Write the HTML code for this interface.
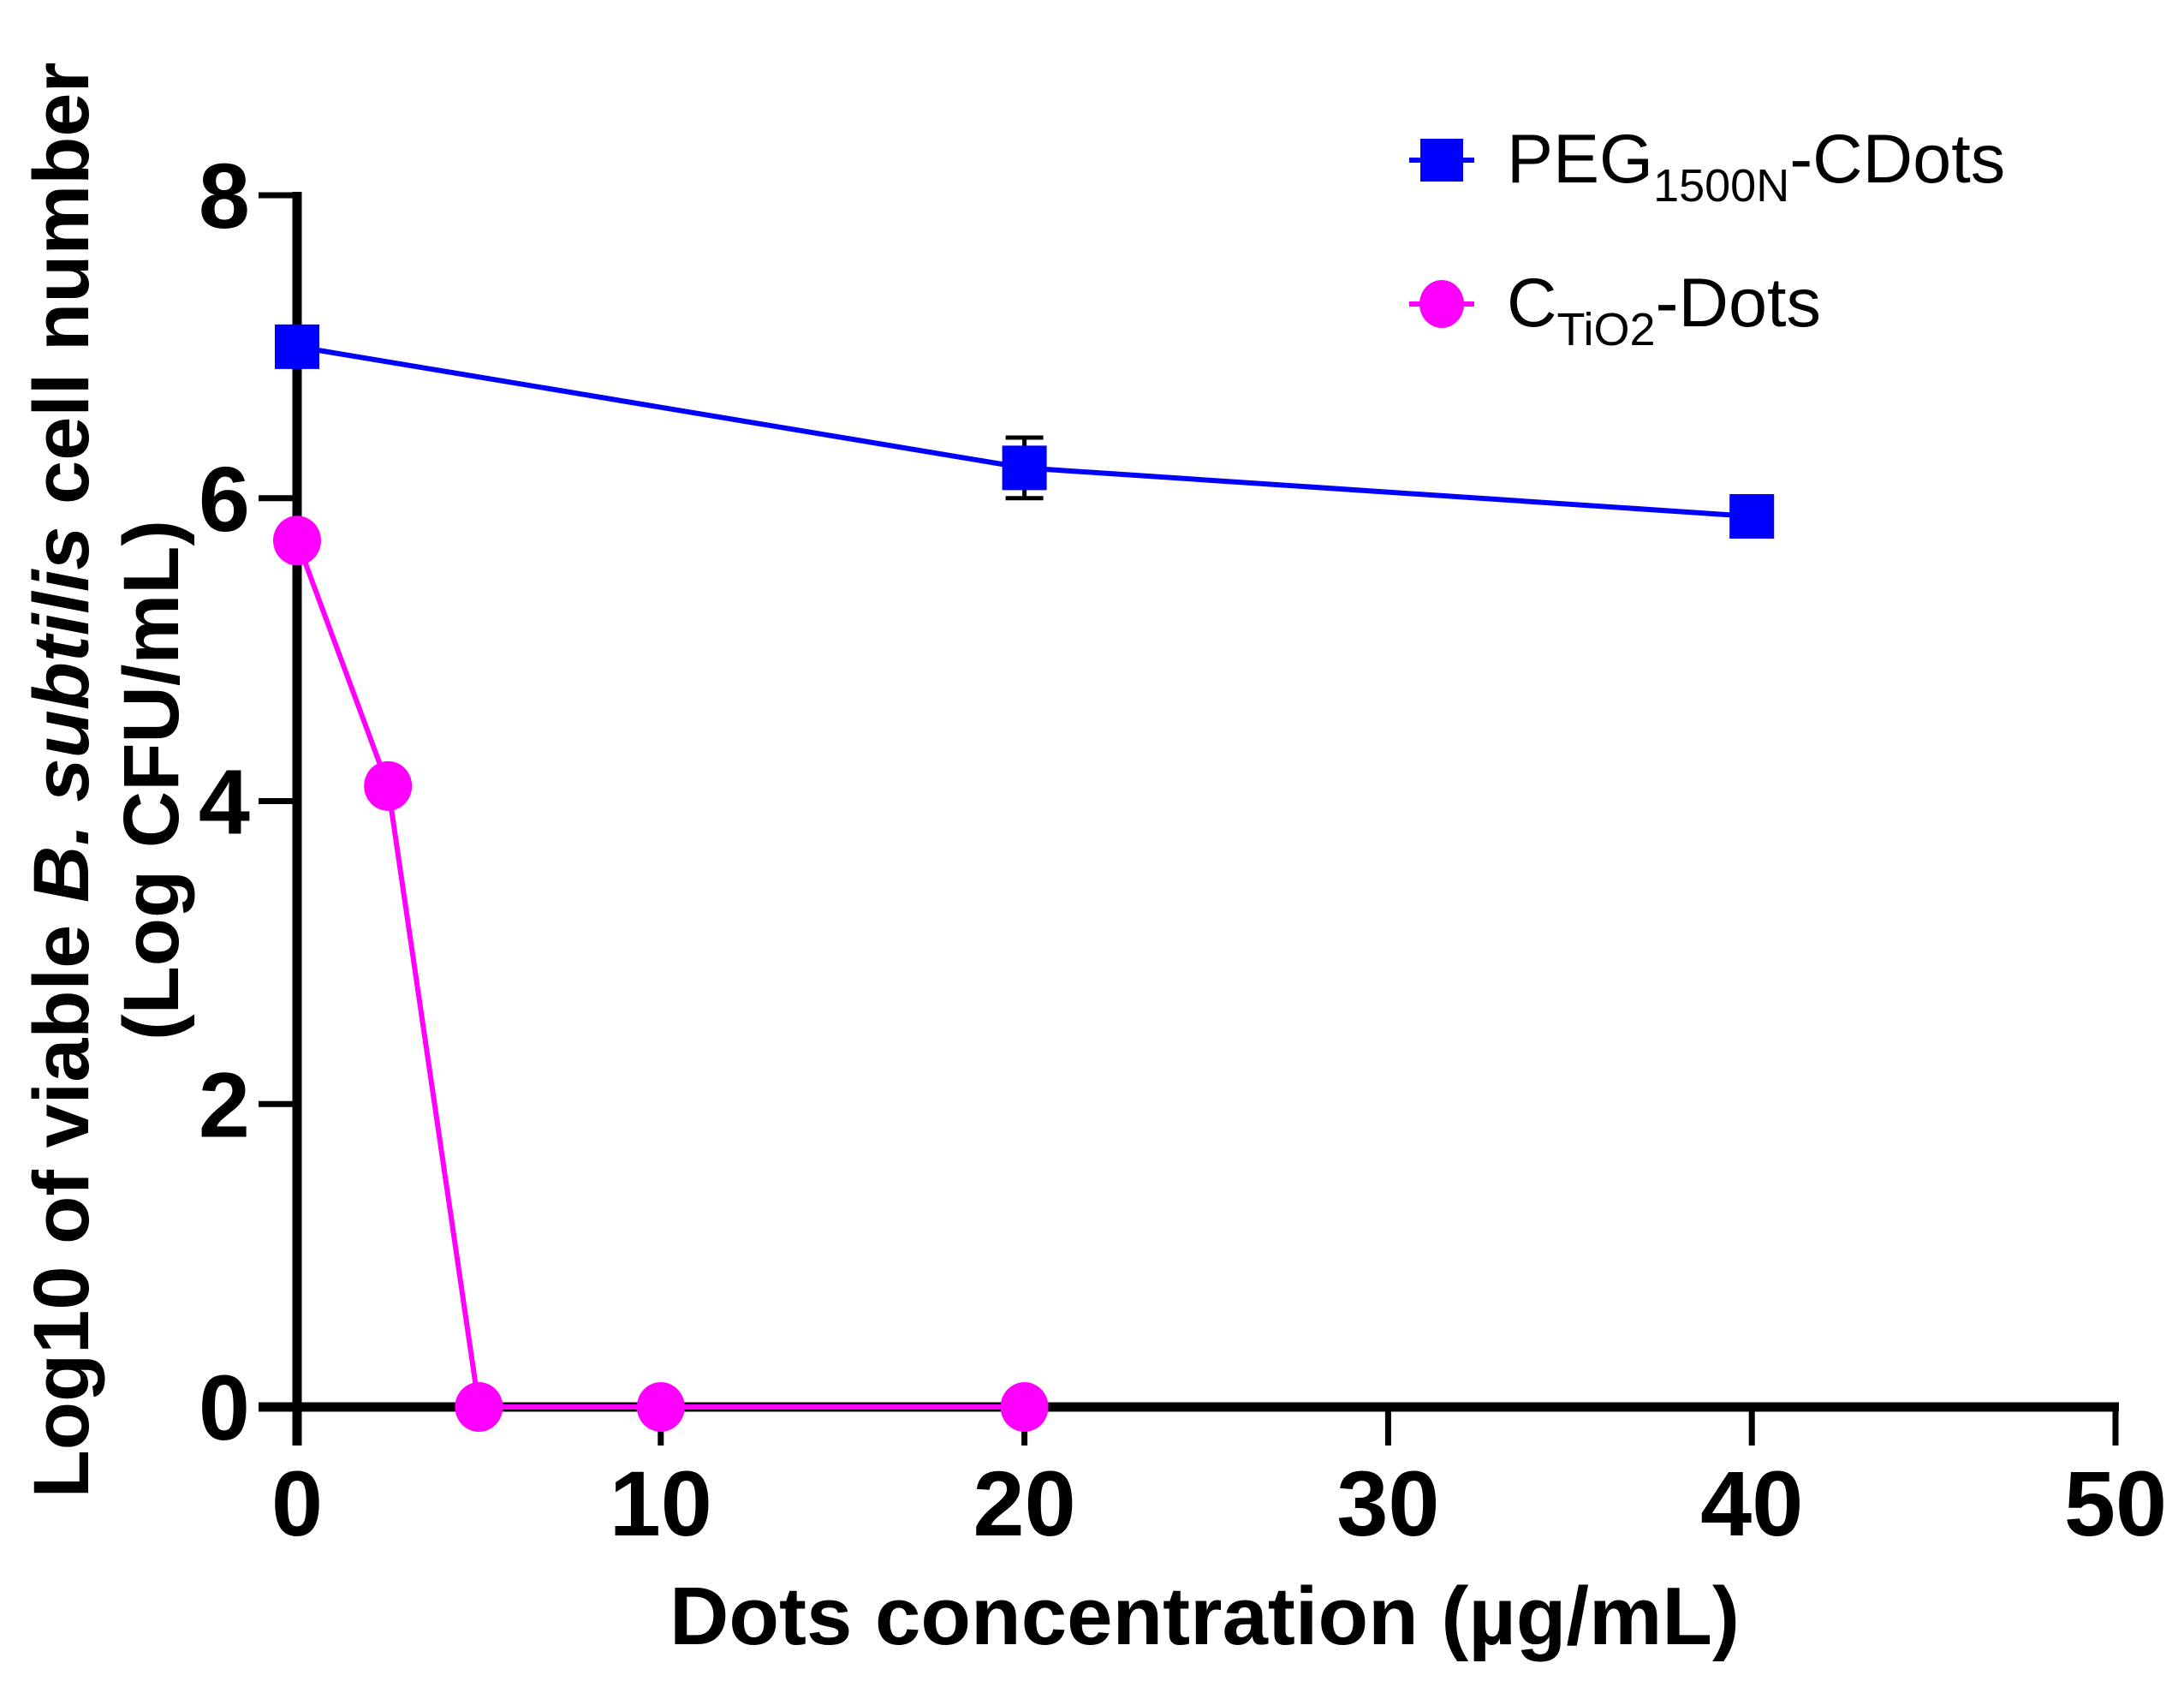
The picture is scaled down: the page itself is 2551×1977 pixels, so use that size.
<!DOCTYPE html>
<html><head><meta charset="utf-8"><style>
body{margin:0;background:#fff}
svg{display:block}
text{font-family:"Liberation Sans",sans-serif}
</style></head><body>
<svg id="chart" width="2551" height="1977" viewBox="0 0 2551 1977" xmlns="http://www.w3.org/2000/svg">
<g id="axes"></g>
<g id="series"></g>
<text x="1407" y="1920" font-size="96" font-weight="bold" text-anchor="middle">Dots concentration (µg/mL)</text>
<g transform="translate(0,911) rotate(-90)" font-size="92" font-weight="bold" text-anchor="middle">
<text x="0" y="103">Log10 of viable <tspan font-style="italic">B. subtilis</tspan> cell number</text>
<text x="0" y="208">(Log CFU/mL)</text>
</g>
<g font-size="81">
<g>
<line x1="1646" y1="187" x2="1722" y2="187" stroke="#0000ff" stroke-width="6"/>
<rect x="1659" y="162" width="50" height="50" fill="#0000ff"/>
<text x="1760" y="213">PEG<tspan font-size="54" dy="22">1500N</tspan><tspan dy="-22">-CDots</tspan></text>
</g>
<g>
<line x1="1646" y1="355" x2="1722" y2="355" stroke="#ff00ff" stroke-width="6"/>
<ellipse cx="1684" cy="355" rx="26" ry="28" fill="#ff00ff"/>
<text x="1760" y="381">C<tspan font-size="54" dy="22">TiO2</tspan><tspan dy="-22">-Dots</tspan></text>
</g>
</g>
</svg>
<script>
const xTicks=[0,10,20,30,40,50];
const yTicks=[0,2,4,6,8];
const pegX=[0,20,40];
const pegY=[7.0,6.2,5.88];
const pegErr=[0,0.2,0];
const tioX=[0,2.5,5,10,20];
const tioY=[5.72,4.1,0,0,0];
const NS='http://www.w3.org/2000/svg';
const X0=347,X1=2471,Y0=1643,Y1=228;
function sx(v){return X0+(v-0)/(50-0)*(X1-X0);}
function sy(v){return Y0-(v-0)/(8-0)*(Y0-Y1);}
function mk(tag,attrs,parent){const e=document.createElementNS(NS,tag);for(const k in attrs)e.setAttribute(k,attrs[k]);parent.appendChild(e);return e;}
const ax=document.getElementById('axes');
let e=mk('line',{x1:X0,y1:sy(8)-4,x2:X0,y2:Y0+45,stroke:'#000','stroke-width':11},ax);


e=mk('line',{x1:X0-45,y1:Y0,x2:X1+4,y2:Y0,stroke:'#000','stroke-width':11},ax);


yTicks.forEach(v=>{
 const t=mk('line',{x1:X0-45,y1:sy(v),x2:X0,y2:sy(v),stroke:'#000','stroke-width':7},ax);
 
 
 const l=mk('text',{x:X0-55,y:sy(v)+38,'font-size':108,'font-weight':'bold','text-anchor':'end'},ax);
 l.textContent=v;
 
 
});
xTicks.forEach(v=>{
 const t=mk('line',{x1:sx(v),y1:Y0,x2:sx(v),y2:Y0+45,stroke:'#000','stroke-width':7},ax);
 
 
 const l=mk('text',{x:sx(v),y:Y0+150,'font-size':108,'font-weight':'bold','text-anchor':'middle'},ax);
 l.textContent=v;
 
 
});
const sr=document.getElementById('series');
let p=mk('polyline',{points:pegX.map((x,i)=>sx(x)+','+sy(pegY[i])).join(' '),fill:'none',stroke:'#0000ff','stroke-width':6},sr);


p=mk('polyline',{points:tioX.map((x,i)=>sx(x)+','+sy(tioY[i])).join(' '),fill:'none',stroke:'#ff00ff','stroke-width':6},sr);


pegX.forEach((x,i)=>{
 if(pegErr[i]>0){
  const g=mk('path',{d:`M${sx(x)-22},${sy(pegY[i]+pegErr[i])}H${sx(x)+22}M${sx(x)},${sy(pegY[i]+pegErr[i])}V${sy(pegY[i]-pegErr[i])}M${sx(x)-22},${sy(pegY[i]-pegErr[i])}H${sx(x)+22}`,stroke:'#000','stroke-width':5,fill:'none'},sr);
  
  
 }
 const r=mk('rect',{x:sx(x)-26,y:sy(pegY[i])-26,width:52,height:52,fill:'#0000ff'},sr);
 
 
});
tioX.forEach((x,i)=>{
 const c=mk('ellipse',{cx:sx(x),cy:sy(tioY[i]),rx:28,ry:29,fill:'#ff00ff'},sr);
 
 
});
</script>
</body></html>
